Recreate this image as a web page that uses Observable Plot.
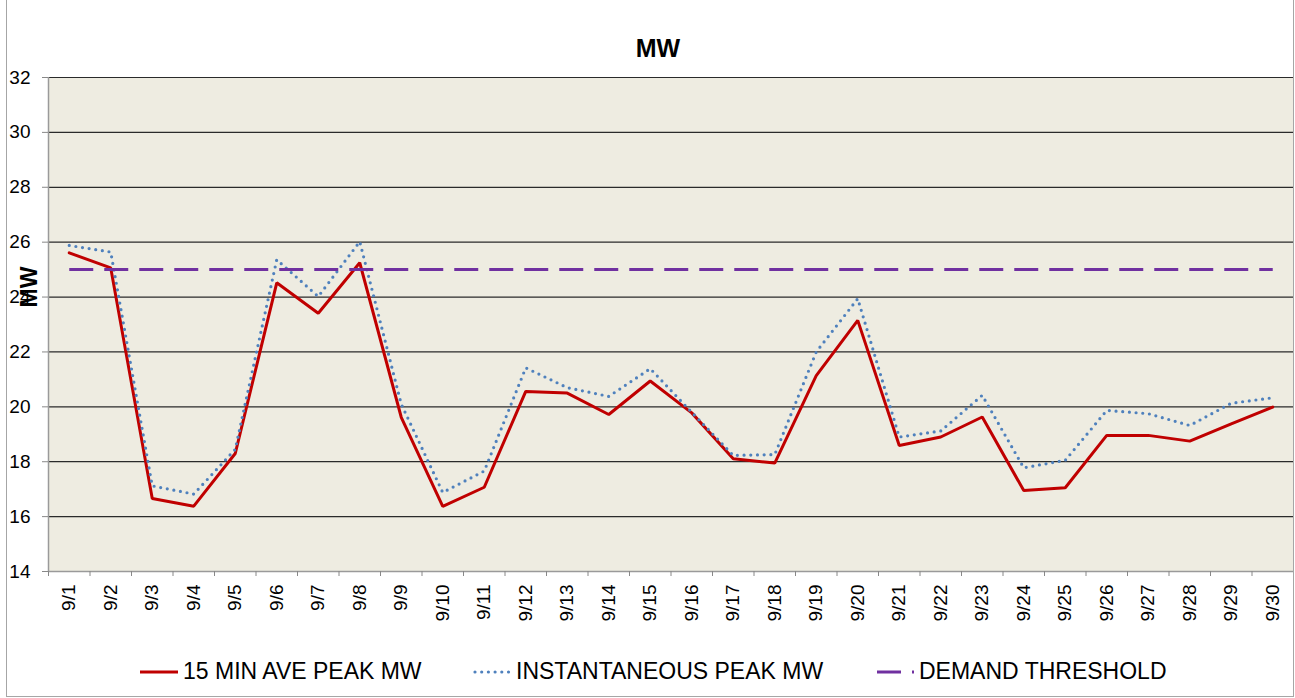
<!DOCTYPE html>
<html>
<head>
<meta charset="utf-8">
<script src="https://cdn.jsdelivr.net/npm/d3@7"></script>
<script src="https://cdn.jsdelivr.net/npm/@observablehq/plot@0.6"></script>
<style>
  html, body { margin: 0; padding: 0; background: #fff; }
  #wrap { position: relative; width: 1295px; height: 698px; overflow: hidden; font-family: "Liberation Sans", Arial, sans-serif; color: #000; }
  #chart { position: absolute; left: 0; top: 0; }
  #chart svg text { font-size: 19px; fill: #000; }
  #border { position: absolute; left: 6px; top: -1px; width: 1288px; height: 698px; border: 1px solid #A6A6A6; box-sizing: border-box; pointer-events: none; }
  #title { position: absolute; left: 558px; width: 200px; top: 36px; text-align: center; font-weight: bold; font-size: 25px; line-height: 25px; }
  #ylabel { position: absolute; left: -1.5px; top: 275px; width: 60px; height: 24px; line-height: 24px; text-align: center; font-weight: bold; font-size: 23px; transform: rotate(-90deg); }
  .leg { position: absolute; top: 660px; font-size: 23px; line-height: 23px; white-space: nowrap; }
  .legsw { position: absolute; top: 662px; }
</style>
</head>
<body>
<div id="wrap">
  <div id="chart"></div>
  <div id="title">MW</div>
  <div id="ylabel">MW</div>
  <svg class="legsw" style="left:138px" width="42" height="20"><line x1="2" x2="40" y1="10" y2="10" stroke="#C00000" stroke-width="3"/></svg>
  <div class="leg" style="left:183px">15 MIN AVE PEAK MW</div>
  <svg class="legsw" style="left:472px" width="42" height="20"><line x1="3" x2="38" y1="10" y2="10" stroke="#4F81BD" stroke-width="3.2" stroke-dasharray="0 6.7" stroke-linecap="round"/></svg>
  <div class="leg" style="left:516px">INSTANTANEOUS PEAK MW</div>
  <svg class="legsw" style="left:875px" width="42" height="20"><line x1="2" x2="39" y1="10" y2="10" stroke="#7030A0" stroke-width="3" stroke-dasharray="24 11"/></svg>
  <div class="leg" style="left:919px">DEMAND THRESHOLD</div>
  <div id="border"></div>
</div>
<script>
const days = ["9/1","9/2","9/3","9/4","9/5","9/6","9/7","9/8","9/9","9/10",
  "9/11","9/12","9/13","9/14","9/15","9/16","9/17","9/18","9/19","9/20",
  "9/21","9/22","9/23","9/24","9/25","9/26","9/27","9/28","9/29","9/30"];
const avg15 = [25.61, 25.06, 16.66, 16.38, 18.30, 24.52, 23.41, 25.25, 19.62, 16.37,
  17.07, 20.56, 20.50, 19.72, 20.94, 19.78, 18.11, 17.95, 21.14, 23.15,
  18.59, 18.90, 19.63, 16.95, 17.05, 18.96, 18.96, 18.75, 19.38, 19.99];
const inst = [25.88, 25.64, 17.12, 16.82, 18.45, 25.36, 24.02, 26.02, 20.10, 16.88,
  17.66, 21.42, 20.70, 20.38, 21.39, 19.80, 18.23, 18.26, 22.00, 23.94,
  18.90, 19.12, 20.42, 17.78, 18.05, 19.87, 19.75, 19.32, 20.13, 20.33];
const threshold = [25, 25, 25, 25, 25, 25, 25, 25, 25, 25,
  25, 25, 25, 25, 25, 25, 25, 25, 25, 25,
  25, 25, 25, 25, 25, 25, 25, 25, 25, 25];
const yTicks = [14, 16, 18, 20, 22, 24, 26, 28, 30, 32];

const data = days.map((d, i) => ({idx: i + 1, label: d, avg: avg15[i], inst: inst[i], thr: threshold[i]}));
const dayPos = data.map(d => d.idx);
const bounds = [0.5, ...dayPos.map(v => v + 0.5)];

const chart = Plot.plot({
  width: 1295,
  height: 698,
  marginTop: 77,
  marginBottom: 127,
  marginLeft: 48,
  marginRight: 2,
  x: {type: "linear", domain: [0.5, days.length + 0.5]},
  y: {domain: [14, 32]},
  style: {fontFamily: "'Liberation Sans', Arial, sans-serif", fontSize: "19px", background: "transparent", color: "#000", overflow: "visible"},
  marks: [
    Plot.frame({fill: "#EEECE1", stroke: "none"}),
    Plot.gridY(yTicks, {stroke: "#2a2a2a", strokeOpacity: 1, strokeWidth: 1.2}),
    Plot.ruleX([0.5], {stroke: "#9a9a9a", strokeWidth: 1.5}),
    Plot.ruleY([14], {stroke: "#9a9a9a", strokeWidth: 1.5}),
    Plot.axisY({ticks: yTicks, tickSize: 6, tickPadding: 12, label: null, stroke: "#888", fill: "#000"}),
    Plot.axisX({ticks: bounds, tickSize: 5, tickFormat: () => "", label: null, stroke: "#888"}),
    Plot.axisX({ticks: dayPos, tickSize: 0, tickPadding: 13, tickRotate: -90, tickFormat: i => days[i - 1], label: null, fill: "#000"}),
    Plot.line(data, {x: "idx", y: "avg", stroke: "#C00000", strokeWidth: 3, strokeLinejoin: "miter"}),
    Plot.line(data, {x: "idx", y: "inst", stroke: "#4F81BD", strokeWidth: 3.2, strokeDasharray: "0 6.7", strokeLinecap: "round"}),
    Plot.line(data, {x: "idx", y: "thr", stroke: "#7030A0", strokeWidth: 3, strokeDasharray: "24 11", strokeLinecap: "butt"})
  ]
});
document.getElementById("chart").appendChild(chart);
</script>
</body>
</html>
